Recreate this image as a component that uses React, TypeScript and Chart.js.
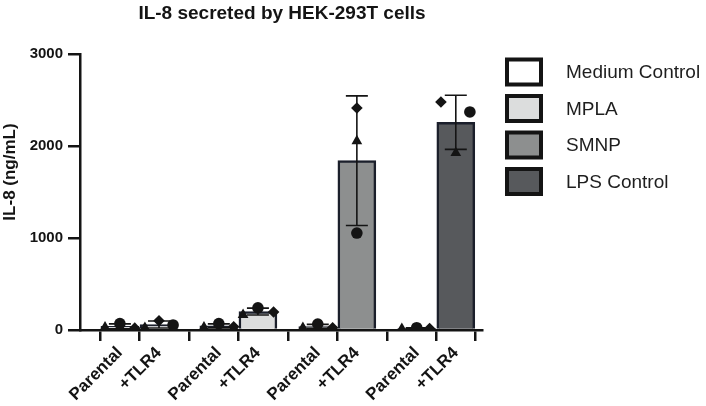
import React, { useEffect, useRef } from "react";
import { Chart, registerables } from "chart.js";

Chart.register(...registerables);

const TITLE = "IL-8 secreted by HEK-293T cells";
const Y_TITLE = "IL-8 (ng/mL)";
const TREATMENTS = ["Medium Control", "MPLA", "SMNP", "LPS Control"];
const CELL_LINES = ["Parental", "+TLR4"];
const TREATMENT_COLORS = ["#ffffff", "#dcdddd", "#8d8f8f", "#57595c"];
const Y_TICKS = [0, 1000, 2000, 3000];

// Replicate values (ng/mL), order: Medium/Parental, Medium/+TLR4, MPLA/Parental, MPLA/+TLR4,
// SMNP/Parental, SMNP/+TLR4, LPS/Parental, LPS/+TLR4
const REP_CIRCLE = [70, 55, 70, 240, 65, 1054, 25, 2370];
const REP_TRIANGLE = [30, 25, 30, 165, 25, 2054, 15, 1924];
const REP_DIAMOND = [20, 100, 35, 195, 25, 2413, 15, 2478];

// horizontal spread of replicate markers (layout, x units)
const JIT_CIRCLE = [0, 0.36, 0, 0, 0, 0, 0, 0.36];
const JIT_TRIANGLE = [-0.38, -0.36, -0.38, -0.38, -0.38, 0, -0.38, 0];
const JIT_DIAMOND = [0.38, 0, 0.38, 0.4, 0.38, 0, 0.33, -0.38];

const GROUP_STEP = 2.53;
const INK = "#141414";
const FONT = "'Liberation Sans', Arial, Helvetica, sans-serif";

const N = TREATMENTS.length * CELL_LINES.length;
const POS = Array.from({ length: N }, (_, i) => Math.floor(i / 2) * GROUP_STEP + (i % 2));
const LABELS = Array.from({ length: N }, (_, i) => CELL_LINES[i % 2]);
const BAR_COLORS = Array.from({ length: N }, (_, i) => TREATMENT_COLORS[Math.floor(i / 2)]);
const REPS = Array.from({ length: N }, (_, i) => [REP_CIRCLE[i], REP_TRIANGLE[i], REP_DIAMOND[i]]);
const MEANS = REPS.map((r) => r.reduce((a, b) => a + b, 0) / r.length);
const SDS = REPS.map((r, i) => Math.sqrt(r.reduce((a, b) => a + (b - MEANS[i]) ** 2, 0) / (r.length - 1)));

const overlay = {
  id: "overlay",
  afterDatasetDraw(chart: any, args: any) {
    if (args.index !== 0) return;
    const ctx = chart.ctx;
    const x = chart.scales.x;
    const y = chart.scales.y;
    ctx.save();
    ctx.strokeStyle = INK;
    ctx.lineWidth = 1.6;
    for (let i = 0; i < N; i++) {
      const px = x.getPixelForValue(POS[i]);
      const top = y.getPixelForValue(MEANS[i] + SDS[i]);
      const bot = y.getPixelForValue(Math.max(0, MEANS[i] - SDS[i]));
      ctx.beginPath();
      ctx.moveTo(px, top);
      ctx.lineTo(px, bot);
      ctx.moveTo(px - 11, top);
      ctx.lineTo(px + 11, top);
      ctx.moveTo(px - 11, bot);
      ctx.lineTo(px + 11, bot);
      ctx.stroke();
    }
    ctx.restore();
  },
  afterDraw(chart: any) {
    const ctx = chart.ctx;
    ctx.save();
    ctx.fillStyle = INK;
    ctx.textAlign = "center";
    ctx.textBaseline = "middle";
    ctx.font = `bold 19px ${FONT}`;
    ctx.fillText(TITLE, 282, 14);
    ctx.save();
    ctx.translate(10, 172);
    ctx.rotate(-Math.PI / 2);
    ctx.font = `bold 17px ${FONT}`;
    ctx.fillText(Y_TITLE, 0, 0);
    ctx.restore();
    // legend
    for (let k = 0; k < TREATMENTS.length; k++) {
      const cy = 72 + k * 36.5;
      ctx.fillStyle = TREATMENT_COLORS[k];
      ctx.fillRect(507, cy - 12.5, 34, 25);
      ctx.strokeStyle = INK;
      ctx.lineWidth = 4;
      ctx.strokeRect(507, cy - 12.5, 34, 25);
      ctx.fillStyle = "#1e1e1e";
      ctx.textAlign = "left";
      ctx.font = `19px ${FONT}`;
      ctx.fillText(TREATMENTS[k], 566, cy + 1);
    }
    ctx.restore();
  },
};

export default function App() {
  const ref = useRef<HTMLCanvasElement>(null);
  useEffect(() => {
    if (!ref.current) return;
    const scatter = (vals: number[], jit: number[], style: string, r: number) => ({
      type: "scatter",
      data: vals.map((v, i) => ({ x: POS[i] + jit[i], y: v })),
      pointStyle: style,
      pointRadius: r,
      backgroundColor: INK,
      borderColor: INK,
      borderWidth: 0,
      order: 1,
    });
    const chart = new Chart(ref.current, {
      type: "bar",
      data: {
        datasets: [
          {
            type: "bar",
            data: POS.map((p, i) => ({ x: p, y: MEANS[i] })),
            backgroundColor: BAR_COLORS,
            borderColor: "#1b1f2b",
            borderWidth: 2.5,
            barThickness: 38,
            order: 2,
          } as any,
          scatter(REP_CIRCLE, JIT_CIRCLE, "circle", 5.8),
          scatter(REP_TRIANGLE, JIT_TRIANGLE, "triangle", 6.2),
          scatter(REP_DIAMOND, JIT_DIAMOND, "rectRot", 5.8),
        ],
      },
      options: {
        animation: false,
        responsive: false,
        events: [],
        layout: { padding: { left: 0, top: 54, right: 224, bottom: 0 } },
        plugins: { legend: { display: false }, tooltip: { enabled: false }, title: { display: false } },
        scales: {
          x: {
            type: "linear",
            min: -1.02,
            max: 9.26,
            offset: false,
            afterBuildTicks: (s: any) => {
              s.ticks = POS.map((v) => ({ value: v }));
            },
            afterFit: (s: any) => {
              s.height = 76;
            },
            ticks: {
              autoSkip: false,
              minRotation: 45,
              maxRotation: 45,
              padding: 2,
              color: INK,
              font: { family: FONT, size: 17, weight: "bold" },
              callback: (_v: any, i: number) => LABELS[i],
            },
            grid: { drawOnChartArea: false, drawTicks: true, tickLength: 11, lineWidth: 2.5, color: INK },
            border: { display: true, color: INK, width: 2.5 },
          },
          y: {
            min: 0,
            max: 3000,
            afterBuildTicks: (s: any) => {
              s.ticks = Y_TICKS.map((v) => ({ value: v }));
            },
            afterFit: (s: any) => {
              s.width = 80;
            },
            ticks: {
              padding: 5,
              color: INK,
              font: { family: FONT, size: 15, weight: "bold" },
              callback: (v: any) => String(v),
            },
            grid: { drawOnChartArea: false, drawTicks: true, tickLength: 12, lineWidth: 2.5, color: INK },
            border: { display: true, color: INK, width: 2.5 },
          },
        },
      } as any,
      plugins: [overlay],
    });
    return () => chart.destroy();
  }, []);
  return (
    <div style={{ position: "fixed", left: 0, top: 0, width: 706, height: 406, background: "#fff" }}>
      <canvas ref={ref} width={706} height={406} style={{ display: "block" }} />
    </div>
  );
}
